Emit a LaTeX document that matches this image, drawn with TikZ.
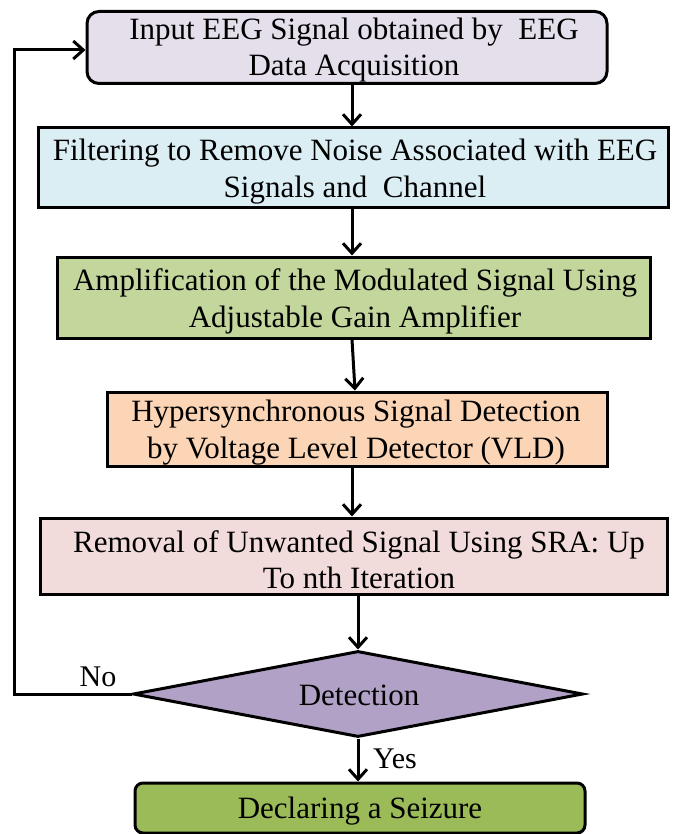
\documentclass[tikz,border=0pt]{standalone}
\usepackage{fontspec}
\setmainfont{Liberation Serif}
\usetikzlibrary{arrows.meta,shapes.geometric}

\definecolor{cInput}{HTML}{E5DFEC}
\definecolor{cFilt}{HTML}{DBEEF4}
\definecolor{cAmp}{HTML}{C3D69B}
\definecolor{cHyp}{HTML}{FBD5B5}
\definecolor{cRem}{HTML}{F2DCDB}
\definecolor{cDia}{HTML}{B2A1C7}
\definecolor{cDec}{HTML}{9BBB59}

\tikzset{
  box/.style={draw=black, line width=3pt, inner sep=0pt},
  txt/.style={align=center, inner sep=0pt, font=\fontsize{31}{36.5}\selectfont},
  arr/.style={draw=black, line width=3pt, -{Straight Barb[length=10pt,width=18pt,line width=3pt]}},
  lbl/.style={inner sep=0pt, font=\fontsize{30}{36}\selectfont}
}

\begin{document}
\begin{tikzpicture}[x=1pt,y=-1pt]
\useasboundingbox (0,0) rectangle (673,834);

% process boxes
\node[box, fill=cInput, rounded corners=12pt, minimum width=520pt, minimum height=72pt] (in) at (347,47.5) {};
\node[box, fill=cFilt, minimum width=630pt, minimum height=80pt] (filt) at (353,168) {};
\node[box, fill=cAmp, minimum width=593pt, minimum height=81pt] (amp) at (353.5,297.5) {};
\node[box, fill=cHyp, minimum width=500pt, minimum height=74pt] (hyp) at (357,429) {};
\node[box, fill=cRem, minimum width=627pt, minimum height=76pt] (rem) at (353.5,556) {};
\node[box, fill=cDia, diamond, aspect=5.23, minimum width=450pt, minimum height=86pt] (dia) at (358,694) {};
\node[box, fill=cDec, rounded corners=8pt, minimum width=450pt, minimum height=50pt] (dec) at (360,808) {};

% box texts
\node[txt] (inT) at (354,50) {Input EEG Signal obtained by~~EEG\\Data Acquisition};
\node[txt] (filtT) at (355,171.5) {Filtering to Remove Noise Associated with EEG\\Signals and~~Channel};
\node[txt] (ampT) at (355,301.5) {Amplification of the Modulated Signal Using\\Adjustable Gain Amplifier};
\node[txt] (hypT) at (356,432.5) {Hypersynchronous Signal Detection\\by Voltage Level Detector (VLD)};
\node[txt] (remT) at (359,559.5) {Removal of Unwanted Signal Using SRA: Up\\To nth Iteration};
\node[txt] (diaT) at (359,695) {Detection};
\node[txt] (decT) at (360,811) {Declaring a Seizure};

% connector columns
\coordinate (c1) at (352,0);
\coordinate (c2) at (355,0);
\coordinate (c3) at (358,0);
\coordinate (loopx) at (14,0);

\draw[arr] (in.south -| c1) -- (filt.north -| c1);
\draw[arr] (filt.south -| c1) -- (amp.north -| c1);
\draw[arr] (amp.south -| c1) -- (hyp.north -| c2);
\draw[arr] (hyp.south -| c1) -- (rem.north -| c1);
\draw[arr] (rem.south -| c3) -- (dia.north);
\draw[arr] (dia.south) -- (dec.north -| c3);

% feedback loop
\draw[arr, line join=miter] (dia.west) -- (dia.west -| loopx) -- ([yshift=-2.5pt]in.west -| loopx) -- ([yshift=-2.5pt]in.west);

\node[lbl] (no) at (98,677) {No};
\node[lbl] (yes) at (395,759) {Yes};
\end{tikzpicture}
\end{document}
